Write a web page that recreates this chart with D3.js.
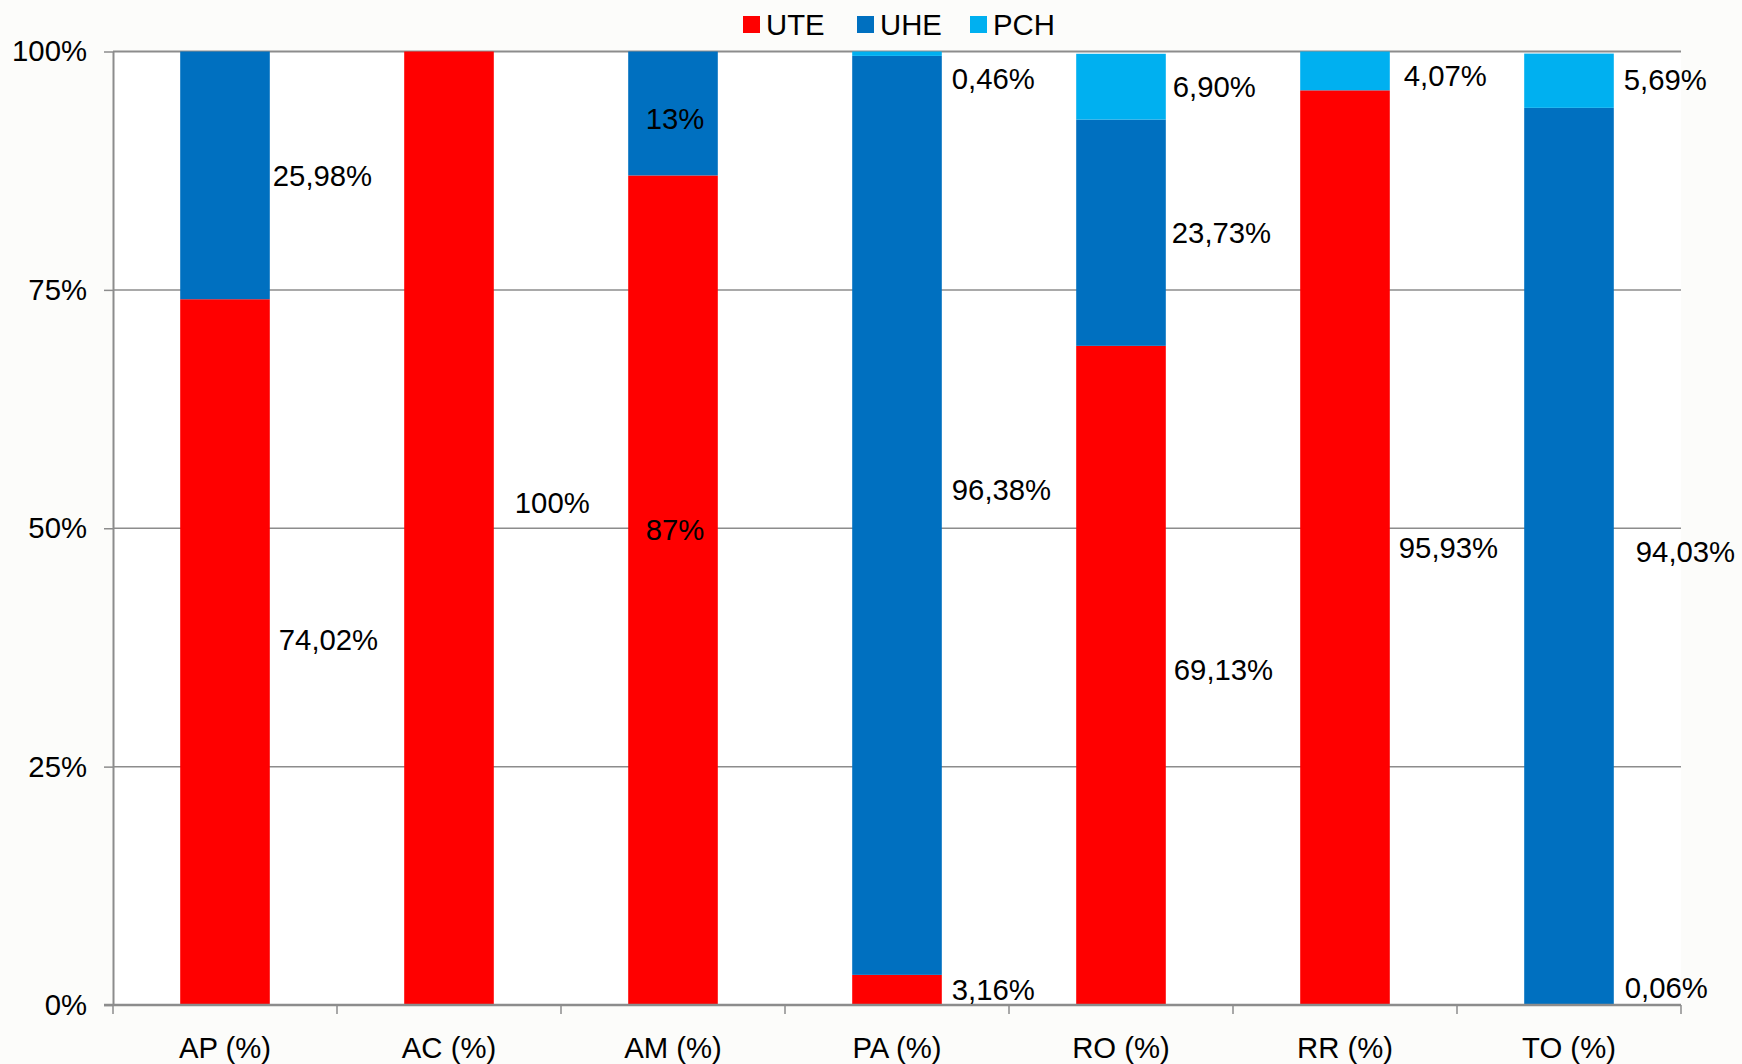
<!DOCTYPE html>
<html><head><meta charset="utf-8">
<script src="https://cdn.jsdelivr.net/npm/d3@7"></script>
<style>
html,body{margin:0;padding:0;background:#fcfcfa;}
svg{display:block;font-family:"Liberation Sans",Arial,sans-serif;}
</style></head>
<body><svg id="c" width="1742" height="1064"></svg>
<script>
// ---- data ----
const categories = ["AP (%)","AC (%)","AM (%)","PA (%)","RO (%)","RR (%)","TO (%)"];
const seriesNames = ["UTE","UHE","PCH"];
const UTE = [74.02, 100, 87, 3.16, 69.13, 95.93, 0.06];
const UHE = [25.98, 0, 13, 96.38, 23.73, 0, 94.03];
const PCH = [0, 0, 0, 0.46, 6.90, 4.07, 5.69];
const labelTexts = {
  UTE: ["74,02%","100%","87%","3,16%","69,13%","95,93%","0,06%"],
  UHE: ["25,98%",null,"13%","96,38%","23,73%",null,"94,03%"],
  PCH: [null,null,null,"0,46%","6,90%","4,07%","5,69%"]
};
const yTicks = [0,25,50,75,100];
const yTickLabels = ["0%","25%","50%","75%","100%"];

// ---- layout / style ----
const FS = 29.3;
const colors = {UTE:"#ff0000", UHE:"#0070c0", PCH:"#00b0f0"};
const M = {left:113, right:1681, top:51.5, bottom:1005};
// label nudges (pixels) relative to the right edge of bar & segment middle; "c" = centred inside bar
const nudge = {
  UTE: [[9,-13],[21,-26],["c",-61],[10,0],[8,-6],[9,0],[11,-17]],
  UHE: [[3,0],null,["c",5],[10,-26],[6,0],null,[22,-5]],
  PCH: [null,null,null,[10,25],[7,0],[14,5],[10,-1]]
};

const svg = d3.select("#c");
const x = d3.scaleBand().domain(categories).range([M.left, M.right]).paddingInner(0.6).paddingOuter(0.3);
const y = d3.scaleLinear().domain([0,100]).range([M.bottom, M.top]);

// plot area
svg.append("rect").attr("x",M.left).attr("y",M.top).attr("width",M.right-M.left).attr("height",M.bottom-M.top).attr("fill","#ffffff");

// gridlines
svg.append("g").selectAll("line").data(yTicks.filter(d=>d>0)).join("line")
  .attr("x1",M.left).attr("x2",M.right).attr("y1",d=>y(d)).attr("y2",d=>y(d))
  .attr("stroke","#8c8c8c").attr("stroke-width",d=>d===100?2:1.5);

// stacked data
const rows = categories.map((c,i)=>({cat:c, UTE:UTE[i], UHE:UHE[i], PCH:PCH[i], idx:i}));
const stack = d3.stack().keys(seriesNames)(rows);

const gBars = svg.append("g");
stack.forEach(layer=>{
  gBars.append("g").selectAll("rect").data(layer.filter(d=>d[1]-d[0]>0)).join("rect")
    .attr("x",d=>x(d.data.cat)).attr("width",x.bandwidth())
    .attr("y",d=>y(d[1])).attr("height",d=>y(d[0])-y(d[1]))
    .attr("fill",colors[layer.key]);
});

// y axis
const yAxis = d3.axisLeft(y).tickValues(yTicks).tickFormat((d,i)=>yTickLabels[i]).tickSizeInner(9).tickSizeOuter(0).tickPadding(17);
const gy = svg.append("g").attr("transform",`translate(${M.left},0)`).call(yAxis);
gy.select(".domain").attr("stroke","#8c8c8c").attr("stroke-width",2);
gy.selectAll(".tick line").attr("stroke","#8c8c8c").attr("stroke-width",1.5);
gy.selectAll(".tick text").attr("font-size",FS).attr("fill","#000").attr("font-family","Liberation Sans, Arial, sans-serif");

// x axis (ticks at band boundaries)
const xAxis = d3.axisBottom(x).tickSize(0).tickPadding(32);
const gx = svg.append("g").attr("transform",`translate(0,${M.bottom})`).call(xAxis);
gx.select(".domain").attr("stroke","#8c8c8c").attr("stroke-width",2.5).attr("d",`M${M.left-9},0H${M.right}`);
gx.selectAll(".tick text").attr("font-size",FS).attr("fill","#000").attr("font-family","Liberation Sans, Arial, sans-serif");
const edges = categories.map((c,i)=>M.left + i*x.step()).concat([M.right]);
gx.append("g").selectAll("line").data(edges).join("line")
  .attr("x1",d=>d).attr("x2",d=>d).attr("y1",0).attr("y2",9)
  .attr("stroke","#8c8c8c").attr("stroke-width",1.5);

// data labels
const gLab = svg.append("g").attr("font-size",FS).attr("fill","#000");
stack.forEach(layer=>{
  layer.forEach((d,i)=>{
    const t = labelTexts[layer.key][i];
    const n = nudge[layer.key][i];
    if(!t || !n) return;
    const mid = y((d[0]+d[1])/2) + n[1];
    const bx = x(d.data.cat);
    const txt = gLab.append("text").attr("y",mid).attr("dominant-baseline","central").text(t);
    if(n[0]==="c") txt.attr("x",bx + x.bandwidth()/2 + 2).attr("text-anchor","middle");
    else txt.attr("x",bx + x.bandwidth() + n[0]).attr("text-anchor","start");
  });
});

// legend
const legend = svg.append("g").attr("transform","translate(743,24.5)");
const legX = [0,114,227];
seriesNames.forEach((s,i)=>{
  const g = legend.append("g").attr("transform",`translate(${legX[i]},0)`);
  g.append("rect").attr("x",0).attr("y",-8.5).attr("width",17).attr("height",17).attr("fill",colors[s]);
  g.append("text").attr("x",23).attr("y",0).attr("dominant-baseline","central").attr("font-size",FS).attr("fill","#000").text(s);
});
</script></body></html>
